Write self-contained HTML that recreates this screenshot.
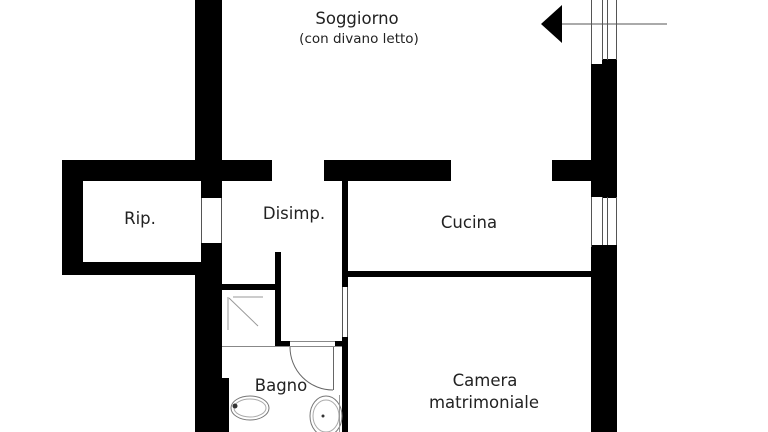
<!DOCTYPE html>
<html><head><style>
html,body{margin:0;padding:0;background:#fff;}
svg{display:block;}
text{font-family:"DejaVu Sans","Liberation Sans",sans-serif;fill:#222;}
</style></head><body>
<svg width="768" height="432" viewBox="0 0 768 432" xmlns="http://www.w3.org/2000/svg">
<rect width="768" height="432" fill="#fff"/>
<g fill="#000">
<rect x="195" y="0" width="27" height="162"/>
<rect x="62" y="160" width="210" height="21"/>
<rect x="62" y="160" width="21" height="115"/>
<rect x="62" y="262" width="140" height="13"/>
<rect x="201" y="181" width="21" height="17"/>
<rect x="201" y="243" width="21" height="189"/>
<rect x="195" y="262" width="27" height="170"/>
<rect x="195" y="378" width="34" height="54"/>
<rect x="324" y="160" width="127" height="21"/>
<rect x="342" y="178" width="6" height="109"/>
<rect x="342" y="337" width="6" height="95"/>
<rect x="335" y="341" width="13" height="6"/>
<rect x="275" y="252" width="6" height="95"/>
<rect x="275" y="341" width="15" height="6"/>
<rect x="222" y="284" width="56" height="6"/>
<rect x="345" y="271" width="247" height="6"/>
<rect x="591" y="64" width="11" height="133"/>
<rect x="602" y="59" width="15" height="139"/>
<rect x="552" y="160" width="40" height="21"/>
<rect x="591" y="245" width="26" height="187"/>
<polygon points="541,24 562,5 562,43"/>
</g>
<g stroke="#555" stroke-width="1" fill="none">
<line x1="562" y1="24" x2="667" y2="24"/>
<line x1="591.5" y1="0" x2="591.5" y2="64"/>
<line x1="602.5" y1="0" x2="602.5" y2="60"/>
<line x1="607.5" y1="0" x2="607.5" y2="60"/>
<line x1="616.5" y1="0" x2="616.5" y2="60"/>
<line x1="591.5" y1="197" x2="591.5" y2="247"/>
<line x1="602.5" y1="197" x2="602.5" y2="245"/>
<line x1="607.5" y1="197" x2="607.5" y2="245"/>
<line x1="616.5" y1="197" x2="616.5" y2="245"/>
<line x1="201.5" y1="198" x2="201.5" y2="243"/>
<line x1="221.5" y1="198" x2="221.5" y2="243"/>
<line x1="342.5" y1="287" x2="342.5" y2="337"/>
<line x1="347.5" y1="287" x2="347.5" y2="337"/>
<line x1="222" y1="346.5" x2="342" y2="346.5" stroke="#888"/>
<line x1="290" y1="341.5" x2="335" y2="341.5" stroke="#888"/>
<path d="M290,347 A43,43 0 0 0 333,390" stroke="#666"/>
<line x1="333.5" y1="347" x2="333.5" y2="390" stroke="#666"/>
<line x1="228" y1="297" x2="228" y2="330" stroke="#999"/>
<line x1="233" y1="297" x2="263" y2="297" stroke="#999"/>
<line x1="229" y1="298" x2="258" y2="326" stroke="#999"/>
<ellipse cx="250" cy="408" rx="19" ry="12" stroke="#777"/>
<ellipse cx="250" cy="408" rx="16" ry="9" stroke="#aaa"/>
<ellipse cx="326" cy="416" rx="16" ry="20" stroke="#777"/>
<ellipse cx="326" cy="416" rx="13" ry="16" stroke="#aaa"/>
<line x1="339.5" y1="395" x2="339.5" y2="432" stroke="#999"/>
</g>
<circle cx="235" cy="406" r="2.5" fill="#333"/>
<circle cx="323" cy="416" r="1.5" fill="#333"/>
<text x="357" y="24" font-size="16.5" text-anchor="middle">Soggiorno</text>
<text x="359" y="43" font-size="13.5" text-anchor="middle">(con divano letto)</text>
<text x="140" y="224" font-size="16.5" text-anchor="middle">Rip.</text>
<text x="294" y="219" font-size="16.5" text-anchor="middle">Disimp.</text>
<text x="469" y="228" font-size="16.5" text-anchor="middle">Cucina</text>
<text x="281" y="391" font-size="16.5" text-anchor="middle">Bagno</text>
<text x="485" y="386" font-size="16.5" text-anchor="middle">Camera</text>
<text x="484" y="408" font-size="16.5" text-anchor="middle">matrimoniale</text>
</svg>
</body></html>
